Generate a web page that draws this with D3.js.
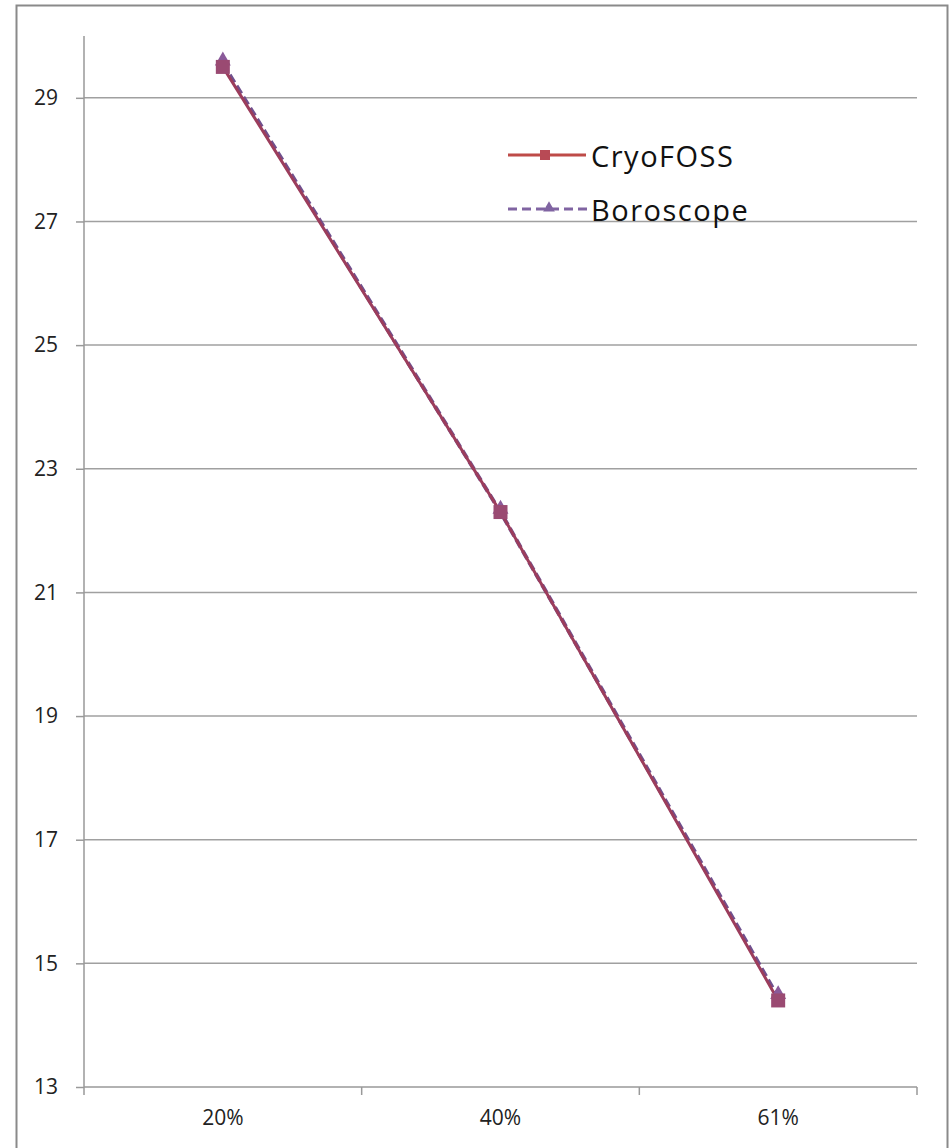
<!DOCTYPE html>
<html><head><meta charset="utf-8">
<script src="https://cdn.jsdelivr.net/npm/d3@7"></script>
<style>body{margin:0;background:#fff}svg{display:block}</style>
</head><body>
<svg id="c" width="951" height="1148"></svg>
<script>
const categories = ["20%", "40%", "61%"];
const cryoFOSS = [29.5, 22.3, 14.4];
const boroscope = [29.55, 22.3, 14.45];
const yTicks = [13, 15, 17, 19, 21, 23, 25, 27, 29];
const seriesNames = ["CryoFOSS", "Boroscope"];

const svg = d3.select("#c");
svg.append("rect").attr("x",16.5).attr("y",5.5).attr("width",931).attr("height",1150)
  .attr("fill","#fff").attr("stroke","#8a8a8a").attr("stroke-width",2);

const L = 84, R = 917, T = 36, B = 1087;
const x = d3.scaleBand().domain(categories).range([L, R]);
const y = d3.scaleLinear().domain([13, 30]).range([B, T]);
const FONT = "Open Sans, Liberation Sans, sans-serif";

// gridlines
svg.append("g").selectAll("line").data(yTicks.filter(d => d > 13)).join("line")
  .attr("x1", L).attr("x2", R).attr("y1", d => y(d)).attr("y2", d => y(d))
  .attr("stroke", "#a0a0a0").attr("stroke-width", 1.5);

// y axis
const yAxis = d3.axisLeft(y).tickValues(yTicks).tickSize(8).tickPadding(18).tickFormat(d3.format("d"));
const gy = svg.append("g").attr("transform", `translate(${L},0)`).call(yAxis);
gy.select(".domain").attr("stroke", "#999").attr("stroke-width", 1.5).attr("d", `M-0,${T}V${B}`);
gy.selectAll(".tick line").attr("stroke", "#999").attr("stroke-width", 1.5);
gy.selectAll("text").attr("font-family", FONT).attr("font-size", 21).attr("fill", "#222");

// x axis
const gx = svg.append("g").attr("transform", `translate(0,${B})`);
gx.append("line").attr("x1", L).attr("x2", R).attr("stroke", "#999").attr("stroke-width", 1.5);
const bounds = categories.map(c => x(c)).concat([R]);
gx.selectAll(".tk").data(bounds).join("line").attr("class","tk")
  .attr("x1", d => d).attr("x2", d => d).attr("y1", 0).attr("y2", 8)
  .attr("stroke", "#999").attr("stroke-width", 1.5);
gx.selectAll("text").data(categories).join("text")
  .attr("x", d => x(d) + x.bandwidth()/2).attr("y", 38)
  .attr("text-anchor", "middle")
  .attr("font-family", FONT).attr("font-size", 21).attr("fill", "#222")
  .text(d => d);

const cx = (d, i) => x(categories[i]) + x.bandwidth()/2;
const line = d3.line().x((d, i) => cx(d, i)).y(d => y(d));

// Boroscope (dashed, purple)
svg.append("path").datum(boroscope).attr("d", line).attr("fill", "none")
  .attr("stroke", "#70508e").attr("stroke-width", 4).attr("stroke-dasharray", "9,4");
// CryoFOSS (solid, red)
svg.append("path").datum(cryoFOSS).attr("d", line).attr("fill", "none")
  .attr("stroke", "#9c3d5c").attr("stroke-width", 3);

const tri = d3.symbol().type(d3.symbolTriangle).size(110);
svg.append("g").selectAll("path").data(boroscope).join("path")
  .attr("d", tri).attr("transform", (d, i) => `translate(${cx(d, i)},${y(d) - 3})`)
  .attr("fill", "#8a5a9a");
svg.append("g").selectAll("rect").data(cryoFOSS).join("rect")
  .attr("x", (d, i) => cx(d, i) - 7).attr("y", d => y(d) - 7)
  .attr("width", 14).attr("height", 14).attr("fill", "#9a4a72");

// legend
const leg = svg.append("g");
const ly = [155, 209];
leg.append("line").attr("x1", 508).attr("x2", 586).attr("y1", ly[0]).attr("y2", ly[0])
  .attr("stroke", "#be4b48").attr("stroke-width", 3);
leg.append("rect").attr("x", 540).attr("y", ly[0] - 5).attr("width", 10).attr("height", 10).attr("fill", "#b84a55");
leg.append("line").attr("x1", 508).attr("x2", 588).attr("y1", ly[1]).attr("y2", ly[1])
  .attr("stroke", "#8064a2").attr("stroke-width", 3).attr("stroke-dasharray", "9,5");
leg.append("path").attr("d", d3.symbol().type(d3.symbolTriangle).size(60))
  .attr("transform", `translate(549,${ly[1] - 1})`).attr("fill", "#8064a2");
leg.selectAll("text").data(seriesNames).join("text")
  .attr("x", 591).attr("y", (d, i) => ly[i] + 12)
  .attr("font-family", FONT).attr("font-size", 29).attr("letter-spacing", 1.5).attr("fill", "#111")
  .text(d => d);
</script>
</body></html>
